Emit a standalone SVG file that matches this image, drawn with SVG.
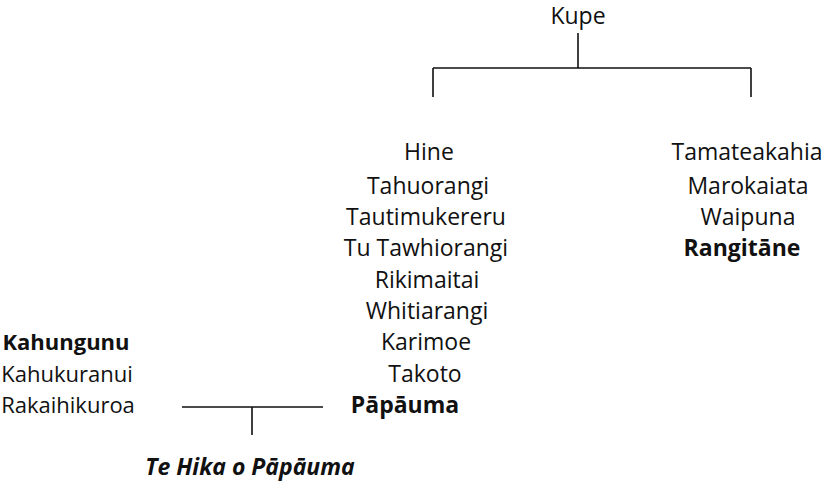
<svg xmlns="http://www.w3.org/2000/svg" width="822" height="484" viewBox="0 0 822 484">
  <style>
    text { font-family: "Open Sans", "Liberation Sans", sans-serif; font-size: 23px; fill: #111; text-anchor: middle; }
    .b { font-weight: bold; }
    .i { font-weight: bold; font-style: italic; }
    .side text { font-size: 22px; }
    .ln { stroke: #111; stroke-width: 1.6; fill: none; }
  </style>
  <rect width="822" height="484" fill="#fff"/>

  <!-- descent lines -->
  <g id="connectors">
    <path class="ln" d="M578,33 V68 M433,68 H751 M433,68 V97 M751,68 V97"/>
    <path class="ln" d="M182,407 H323 M252,407 V435"/>
  </g>

  <g id="kupe"><text x="578" y="24">Kupe</text></g>

  <g id="hine-line">
    <text x="429" y="160">Hine</text>
    <text x="428" y="194">Tahuorangi</text>
    <text x="426" y="225">Tautimukereru</text>
    <text x="426" y="256">Tu Tawhiorangi</text>
    <text x="427" y="288">Rikimaitai</text>
    <text x="427" y="319">Whitiarangi</text>
    <text x="426" y="350">Karimoe</text>
    <text x="425" y="382">Takoto</text>
    <text x="405" y="413" class="b">Pāpāuma</text>
  </g>

  <g id="tamateakahia-line">
    <text x="747" y="160">Tamateakahia</text>
    <text x="748" y="194">Marokaiata</text>
    <text x="748" y="225">Waipuna</text>
    <text x="742" y="256" class="b">Rangitāne</text>
  </g>

  <g id="kahungunu-line" class="side">
    <text x="66" y="350" class="b">Kahungunu</text>
    <text x="67" y="382">Kahukuranui</text>
    <text x="68" y="413">Rakaihikuroa</text>
  </g>

  <g id="te-hika"><text x="250" y="475" class="i">Te Hika o Pāpāuma</text></g>
</svg>
